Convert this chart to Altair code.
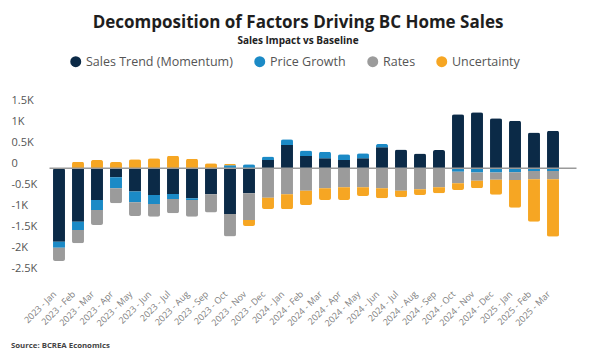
import altair as alt
import pandas as pd

months = ["2023 - Jan", "2023 - Feb", "2023 - Mar", "2023 - Apr", "2023 - May", "2023 - Jun",
          "2023 - Jul", "2023 - Aug", "2023 - Sep", "2023 - Oct", "2023 - Nov", "2023 - Dec",
          "2024 - Jan", "2024 - Feb", "2024 - Mar", "2024 - Apr", "2024 - May", "2024 - Jun",
          "2024 - Jul", "2024 - Aug", "2024 - Sep", "2024 - Oct", "2024 - Nov", "2024 - Dec",
          "2025 - Jan", "2025 - Feb", "2025 - Mar"]

sales_trend = [-1750, -1270, -755, -215, -555, -635, -610, -715, -615, -1090, -595, 200,
               555, 295, 240, 200, 240, 500, 450, 355, 435, 1285, 1335, 1190, 1135, 850, 895]
price_growth = [-140, -200, -240, -260, -255, -215, -120, -40, 0, 70, 95, 78,
                135, 126, 157, 135, 119, 79, 0, 0, 0, -80, -100, -100, -95, -65, -65]
rates = [-317, -317, -357, -357, -325, -302, -341, -397, -437, -533, -635, -700,
         -619, -533, -476, -452, -452, -476, -533, -500, -452, -277, -199, -175, -183, -198, -198]
uncertainty = [0, 157, 198, 150, 214, 238, 300, 230, 119, 40, -143, -270,
               -357, -340, -278, -302, -207, -238, -157, -135, -143, -159, -174, -357, -659, -1008, -1365]
y_ticks = [-2500, -2000, -1500, -1000, -500, 0, 500, 1000, 1500]

series_names = ["Sales Trend (Momentum)", "Price Growth", "Rates", "Uncertainty"]
series_colors = ["#0b2a47", "#1b8ac6", "#9b9b9b", "#f6a623"]

rows = []
for i, m in enumerate(months):
    for k, (name, vals) in enumerate(zip(series_names,
                                         [sales_trend, price_growth, rates, uncertainty])):
        rows.append({"month": m, "series": name, "value": vals[i], "order": k})
df = pd.DataFrame(rows)

FONT = "Open Sans"

yaxis = alt.Axis(values=y_ticks,
                 labelExpr="datum.value == 0 ? '0' : (datum.value / 1000) + 'K'",
                 labelAlign="left", labelBaseline="bottom", labelPadding=38.5,
                 labelOverlap=False, labelBound=False,
                 ticks=False, tickSize=0, domain=False, grid=False, title=None,
                 labelFontSize=11, labelColor="#555555", labelFont=FONT)

bars = alt.Chart(df).mark_bar(cornerRadius=2).encode(
    x=alt.X("month:N", sort=months, title=None,
            scale=alt.Scale(paddingInner=0.37, paddingOuter=0.185),
            axis=alt.Axis(labelAngle=-45, labelFontSize=9, labelColor="#808080",
                          labelFont=FONT, ticks=False, domain=False, labelPadding=16,
                          labelOffset=-7)),
    y=alt.Y("value:Q", stack="zero", title=None,
            scale=alt.Scale(domain=[-2500, 1500], nice=False),
            axis=yaxis),
    color=alt.Color("series:N", sort=series_names,
                    scale=alt.Scale(domain=series_names, range=series_colors),
                    legend=alt.Legend(title=None, orient="none", direction="horizontal",
                                      legendX=20, legendY=-50,
                                      symbolType="circle", symbolSize=120,
                                      symbolStrokeWidth=0, symbolOpacity=1,
                                      labelFontSize=12.5, labelColor="#555555", labelFont=FONT,
                                      columnPadding=20, symbolOffset=0)),
    order=alt.Order("order:Q"),
)

zero = alt.Chart(pd.DataFrame({"y": [0]})).mark_rule(color="#9a9a9a", strokeWidth=1.5).encode(
    y=alt.Y("y:Q", axis=yaxis), x=alt.value(0), x2=alt.value(527)
)

source = alt.Chart(pd.DataFrame({"t": ["Source: BCREA Economics"]})).mark_text(
    align="left", baseline="middle", fontSize=7.8, fontWeight="bold", font=FONT, color="#444444"
).encode(text="t:N", x=alt.value(-38.5), y=alt.value(241))

chart = alt.layer(bars, zero, source).properties(
    width=513, height=168,
    title=alt.TitleParams(
        text="Decomposition of Factors Driving BC Home Sales",
        subtitle="Sales Impact vs Baseline",
        anchor="middle", font=FONT, fontSize=17, fontWeight="bold", color="#1e1e1e",
        subtitleFont=FONT, subtitleFontSize=10, subtitleFontWeight="bold",
        subtitleColor="#222222", subtitlePadding=4, offset=8, dx=-8,
    ),
    autosize=alt.AutoSizeParams(type="none"),
    padding={"left": 41.5, "top": 97.3, "right": 26.5, "bottom": 77.7},
).configure_view(stroke=None).configure_axisY(labelOverlap=False)

chart.save("out.html", embed_options={"renderer": "svg", "actions": False})
